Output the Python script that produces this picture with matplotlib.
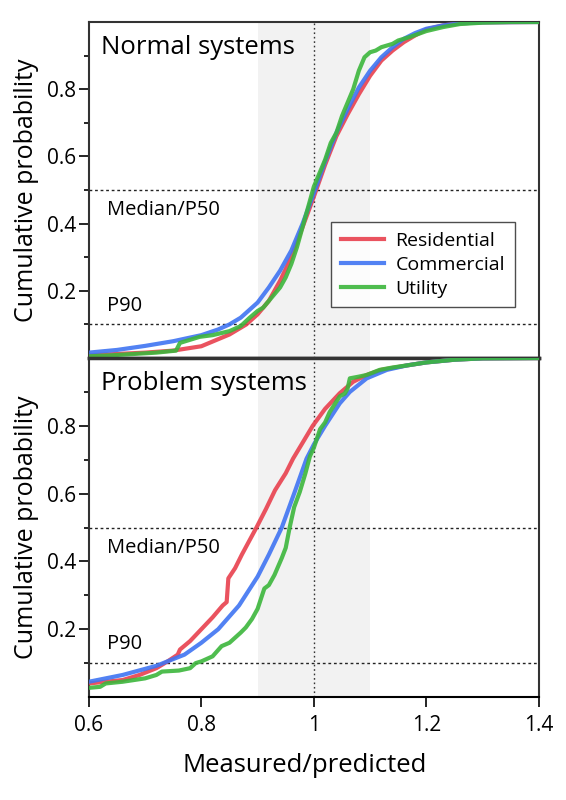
import matplotlib
matplotlib.use("Agg")
import matplotlib.pyplot as plt
from matplotlib.ticker import FixedLocator

plt.rcParams["font.family"] = ["Open Sans", "DejaVu Sans"]

X_TICKS = [0.6, 0.8, 1.0, 1.2, 1.4]
X_TICK_LABELS = ["0.6", "0.8", "1", "1.2", "1.4"]
Y_TICKS = [0.2, 0.4, 0.6, 0.8]
Y_TICK_LABELS = ["0.2", "0.4", "0.6", "0.8"]
Y_MINOR_TICKS = [0.1, 0.3, 0.5, 0.7, 0.9]
SERIES_NAMES = ["Residential", "Commercial", "Utility"]
PANEL_TITLES = ["Normal systems", "Problem systems"]
MEDIAN_LEVEL = 0.5
P90_LEVEL = 0.1
BAND = (0.9, 1.1)

# Sistemas normais
NORMAL_RES_X = [0.6, 0.65, 0.7, 0.75, 0.8, 0.85, 0.88, 0.9, 0.92, 0.94, 0.96, 0.98, 1.0,
                1.02, 1.04, 1.06, 1.08, 1.1, 1.12, 1.14, 1.16, 1.18, 1.2, 1.23, 1.26, 1.3, 1.4]
NORMAL_RES_Y = [0.008, 0.012, 0.016, 0.022, 0.035, 0.07, 0.1, 0.13, 0.17, 0.23, 0.3, 0.39, 0.48,
                0.575, 0.66, 0.725, 0.785, 0.84, 0.885, 0.915, 0.94, 0.96, 0.978, 0.99, 0.996, 0.999, 1.0]

NORMAL_COM_X = [0.6, 0.65, 0.7, 0.75, 0.8, 0.83, 0.85, 0.87, 0.88, 0.9, 0.92, 0.94, 0.96, 0.98, 1.0,
                1.02, 1.04, 1.06, 1.08, 1.1, 1.12, 1.14, 1.16, 1.18, 1.2, 1.23, 1.26, 1.3, 1.4]
NORMAL_COM_Y = [0.016, 0.024, 0.036, 0.05, 0.068, 0.085, 0.1, 0.12, 0.135, 0.165, 0.21, 0.26, 0.32,
                0.4, 0.49, 0.585, 0.67, 0.74, 0.805, 0.855, 0.895, 0.925, 0.95, 0.967, 0.98, 0.99,
                0.996, 0.999, 1.0]

NORMAL_UTI_X = [0.6, 0.64, 0.68, 0.72, 0.755, 0.762, 0.797, 0.82, 0.85, 0.87, 0.886, 0.9, 0.91,
                0.92, 0.93, 0.94, 0.95, 0.96, 0.97, 0.98, 0.99, 1.0, 1.01, 1.02, 1.03, 1.04, 1.05,
                1.06, 1.07, 1.08, 1.09, 1.1, 1.11, 1.12, 1.13, 1.14, 1.15, 1.17, 1.2, 1.23, 1.26,
                1.3, 1.35, 1.4]
NORMAL_UTI_Y = [0.005, 0.008, 0.012, 0.016, 0.022, 0.045, 0.063, 0.068, 0.08, 0.095, 0.12, 0.14,
                0.15, 0.17, 0.19, 0.21, 0.24, 0.28, 0.33, 0.39, 0.45, 0.51, 0.55, 0.59, 0.64, 0.67,
                0.72, 0.76, 0.8, 0.855, 0.895, 0.91, 0.915, 0.925, 0.93, 0.935, 0.945, 0.955,
                0.973, 0.985, 0.994, 0.998, 1.0, 1.0]

# Sistemas com problema
PROBLEM_RES_X = [0.6, 0.63, 0.66, 0.69, 0.72, 0.74, 0.758, 0.762, 0.78, 0.8, 0.82, 0.838, 0.845,
                 0.848, 0.86, 0.872, 0.884, 0.898, 0.915, 0.931, 0.95, 0.963, 0.98, 0.998, 1.02,
                 1.046, 1.07, 1.094, 1.12, 1.165, 1.2, 1.25, 1.3, 1.4]
PROBLEM_RES_Y = [0.04, 0.045, 0.05, 0.065, 0.085, 0.105, 0.125, 0.14, 0.165, 0.2, 0.235, 0.27,
                 0.28, 0.35, 0.38, 0.42, 0.457, 0.5, 0.555, 0.61, 0.66, 0.703, 0.75, 0.8, 0.85,
                 0.896, 0.93, 0.95, 0.965, 0.978, 0.987, 0.995, 0.999, 1.0]

PROBLEM_COM_X = [0.6, 0.66, 0.72, 0.77, 0.8, 0.83, 0.867, 0.9, 0.92, 0.943, 0.966, 0.987, 1.0,
                 1.02, 1.046, 1.064, 1.094, 1.13, 1.165, 1.2, 1.25, 1.3, 1.4]
PROBLEM_COM_Y = [0.045, 0.065, 0.092, 0.125, 0.16, 0.2, 0.27, 0.355, 0.42, 0.5, 0.605, 0.703,
                 0.745, 0.8, 0.866, 0.9, 0.94, 0.965, 0.978, 0.987, 0.995, 0.999, 1.0]

PROBLEM_UTI_X = [0.6, 0.62, 0.63, 0.66, 0.68, 0.7, 0.72, 0.73, 0.76, 0.78, 0.79, 0.8, 0.82,
                 0.836, 0.85, 0.86, 0.87, 0.879, 0.89, 0.9, 0.908, 0.912, 0.92, 0.93, 0.943,
                 0.95, 0.957, 0.965, 0.975, 0.985, 0.993, 1.0, 1.011, 1.02, 1.028, 1.046, 1.055,
                 1.06, 1.064, 1.08, 1.094, 1.117, 1.14, 1.165, 1.2, 1.25, 1.3, 1.4]
PROBLEM_UTI_Y = [0.027, 0.03, 0.04, 0.045, 0.05, 0.055, 0.065, 0.075, 0.078, 0.085, 0.1, 0.105,
                 0.12, 0.15, 0.16, 0.175, 0.19, 0.205, 0.23, 0.26, 0.3, 0.32, 0.33, 0.36, 0.41,
                 0.44, 0.5, 0.56, 0.605, 0.66, 0.71, 0.735, 0.79, 0.81, 0.84, 0.887, 0.895, 0.91,
                 0.94, 0.945, 0.95, 0.965, 0.972, 0.978, 0.987, 0.995, 0.999, 1.0]

COLORS = ["#e8404e", "#3f74f2", "#3cb63c"]


# Desenha um painel com faixa cinza, linhas de referencia e as tres curvas.
def draw_panel(ax, title, curves, show_legend, is_bottom):
    ax.axvspan(BAND[0], BAND[1], color="#f2f2f2", zorder=0, lw=0)
    ax.axvline(1.0, color="#333333", lw=1.0, ls=(0, (1.2, 2.0)), zorder=1)
    for level in (MEDIAN_LEVEL, P90_LEVEL):
        ax.axhline(level, color="#222222", lw=1.0, ls=(0, (2.0, 2.0)), zorder=1)

    for (xs, ys), name, color in zip(curves, SERIES_NAMES, COLORS):
        ax.plot(xs, ys, color=color, lw=3.0, label=name, zorder=3, alpha=0.9,
                solid_joinstyle="round")

    ax.text(0.632, 0.44, "Median/P50", fontsize=14.5, va="center", ha="left")
    ax.text(0.632, 0.155, "P90", fontsize=14.5, va="center", ha="left")
    ax.text(0.621, 0.925, title, fontsize=18.5, va="center", ha="left")

    ax.set_xlim(0.6, 1.4)
    ax.set_ylim(0, 1.0)
    ax.yaxis.set_major_locator(FixedLocator(Y_TICKS))
    ax.set_yticklabels(Y_TICK_LABELS)
    ax.yaxis.set_minor_locator(FixedLocator(Y_MINOR_TICKS))
    ax.tick_params(axis="y", which="major", length=7, width=1.2, labelsize=15, pad=2)
    ax.tick_params(axis="y", which="minor", length=3.5, width=1.2)
    ax.set_ylabel("Cumulative probability", fontsize=18, labelpad=6)

    for side in ("left", "right"):
        ax.spines[side].set_linewidth(1.5)
        ax.spines[side].set_color("#333333")

    if is_bottom:
        ax.set_xticks(X_TICKS)
        ax.set_xticklabels(X_TICK_LABELS)
        ax.tick_params(axis="x", length=7, width=1.2, labelsize=15, pad=6)
        ax.set_xlabel("Measured/predicted", fontsize=18.5, labelpad=14)
        ax.xaxis.set_label_coords(0.48, -0.165)
        ax.spines["top"].set_linewidth(2.5)
        ax.spines["top"].set_color("#333333")
        ax.spines["bottom"].set_linewidth(1.5)
    else:
        ax.set_xticks([])
        ax.spines["top"].set_linewidth(1.5)
        ax.spines["top"].set_color("#333333")
        ax.spines["bottom"].set_linewidth(2.5)
        ax.spines["bottom"].set_color("#333333")

    if show_legend:
        leg = ax.legend(loc="upper left", bbox_to_anchor=(0.539, 0.404), fontsize=14,
                        frameon=True, fancybox=False, edgecolor="#222222",
                        handlelength=2.2, handletextpad=0.6, labelspacing=0.3,
                        borderpad=0.5, borderaxespad=0)
        leg.get_frame().set_linewidth(1.0)
        for line in leg.get_lines():
            line.set_linewidth(3.0)


def main() -> None:
    fig = plt.figure(figsize=(5.66, 8.0), dpi=100, facecolor="white")
    ax_top = fig.add_axes([0.157, 0.5525, 0.795, 0.42])
    ax_bot = fig.add_axes([0.157, 0.12875, 0.795, 0.42375])

    draw_panel(ax_top, PANEL_TITLES[0],
               [(NORMAL_RES_X, NORMAL_RES_Y), (NORMAL_COM_X, NORMAL_COM_Y),
                (NORMAL_UTI_X, NORMAL_UTI_Y)],
               show_legend=True, is_bottom=False)
    draw_panel(ax_bot, PANEL_TITLES[1],
               [(PROBLEM_RES_X, PROBLEM_RES_Y), (PROBLEM_COM_X, PROBLEM_COM_Y),
                (PROBLEM_UTI_X, PROBLEM_UTI_Y)],
               show_legend=False, is_bottom=True)

    fig.savefig("out.png", dpi=100, facecolor="white")
    plt.close(fig)


if __name__ == "__main__":
    main()
